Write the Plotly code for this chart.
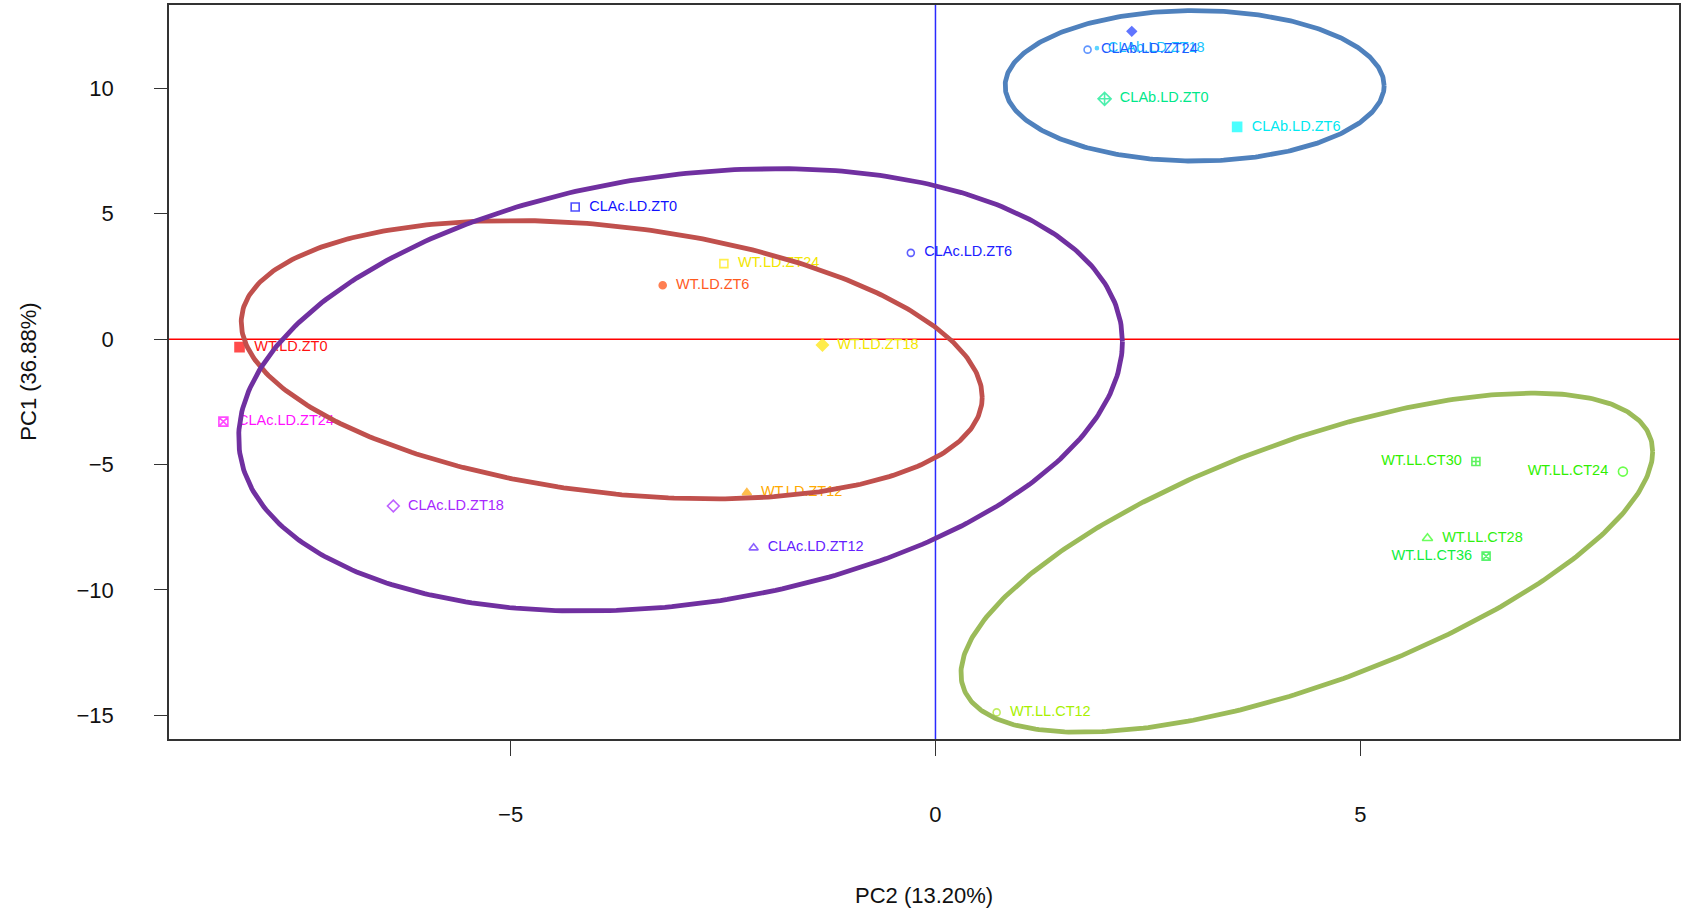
import numpy as np
import plotly.graph_objects as go

# ---------------- data ----------------
samples = [
    "WT.LD.ZT0", "WT.LD.ZT6", "WT.LD.ZT12", "WT.LD.ZT18", "WT.LD.ZT24",
    "CLAc.LD.ZT0", "CLAc.LD.ZT6", "CLAc.LD.ZT12", "CLAc.LD.ZT18", "CLAc.LD.ZT24",
    "CLAb.LD.ZT0", "CLAb.LD.ZT6", "CLAb.LD.ZT12", "CLAb.LD.ZT18", "CLAb.LD.ZT24",
    "WT.LL.CT12", "WT.LL.CT24", "WT.LL.CT28", "WT.LL.CT30", "WT.LL.CT36",
]
# labels shown next to points ("" = label not visible in the figure)
labels = [
    "WT.LD.ZT0", "WT.LD.ZT6", "WT.LD.ZT12", "WT.LD.ZT18", "WT.LD.ZT24",
    "CLAc.LD.ZT0", "CLAc.LD.ZT6", "CLAc.LD.ZT12", "CLAc.LD.ZT18", "CLAc.LD.ZT24",
    "CLAb.LD.ZT0", "CLAb.LD.ZT6", "", "CLAb.LD.ZT18", "CLAb.LD.ZT24",
    "WT.LL.CT12", "WT.LL.CT24", "WT.LL.CT28", "WT.LL.CT30", "WT.LL.CT36",
]
pc2 = [-8.19, -3.21, -2.22, -1.33, -2.49,
       -4.24, -0.29, -2.14, -6.38, -8.38,
       1.99, 3.55, 2.31, 1.90, 1.79,
       0.72, 8.09, 5.79, 6.36, 6.48]
pc1 = [-0.32, 2.15, -6.12, -0.23, 3.01,
       5.27, 3.44, -8.32, -6.65, -3.29,
       9.58, 8.46, 12.27, 11.60, 11.54,
       -14.88, -5.28, -7.94, -4.88, -8.65]

# confidence ellipses (data units): center, half-widths, correlation
ell_groups = ["WT.LD", "CLAc.LD", "WT.LL", "CLAb.LD"]
ell_cx = [-3.81, -3.00, 4.37, 3.05]
ell_cy = [-0.82, -2.02, -8.91, 10.10]
ell_sx = [4.36, 5.20, 4.07, 2.23]
ell_sy = [5.55, 8.82, 6.76, 3.00]
ell_rho = [-0.269, 0.217, 0.654, 0.0]

x_ticks = [-5, 0, 5]
y_ticks = [-15, -10, -5, 0, 5, 10]

# ---------------- styles ----------------
marker_colors = [
    "#FF0000", "#FF4A0A", "#FFA200", "#FFE400", "#FFE800",
    "#0000FF", "#1A1AFF", "#5A1EFF", "#A21EFF", "#FF00FF",
    "#00E88A", "#00FFFF", "#1E3CFF", "#18C4FF", "#1E6AFF",
    "#A6E61E", "#2EFF00", "#2EFF1A", "#1AEE1A", "#12EE30",
]
text_colors = [
    "#FF1010", "#FF5A1E", "#FFAA00", "#F2E600", "#F2E600",
    "#1010FF", "#2020FF", "#6420FF", "#A828FF", "#FF10FF",
    "#00E88A", "#00E8F0", "#1E50FF", "#18C4FF", "#1E5CFF",
    "#A8F000", "#30F000", "#30F010", "#30F000", "#10EE40",
]
symbols = [
    "square", "circle", "triangle-up", "diamond", "square-open",
    "square-open", "circle-open", "triangle-up-open", "diamond-open", "square-x-open",
    "diamond-cross-open", "square", "diamond", "circle", "circle-open",
    "circle-open", "circle-open", "triangle-up-open", "square-cross-open", "square-x-open",
]
sizes = [9, 7, 8, 9, 8,
         8, 7, 8, 9, 9,
         10, 9, 7, 3, 7,
         7, 9, 9, 8, 8]
text_pos = ["middle right"] * 16 + ["middle left", "middle right", "middle left", "middle left"]
ell_colors = ["#C0504D", "#7030A0", "#9BBB59", "#4F81BD"]

shown = [("  " + s if p.endswith("right") else s + "  ") if s else s
         for s, p in zip(labels, text_pos)]

fig = go.Figure()

# reference lines
fig.add_hline(y=0, line=dict(color="#FF0000", width=1.5), layer="below")
fig.add_vline(x=0, line=dict(color="#2A2AFF", width=1.5), layer="below")

fig.add_trace(go.Scatter(
    x=pc2, y=pc1, mode="markers+text",
    text=shown, hovertext=samples, textposition=text_pos,
    textfont=dict(family="Liberation Sans, Arial, sans-serif", size=14.5, color=text_colors),
    marker=dict(symbol=symbols, size=sizes, color=marker_colors,
                line=dict(width=1.6, color=marker_colors)),
    showlegend=False,
))

t = np.linspace(0, 2 * np.pi, 400)
for g, cx, cy, sx, sy, r, c in zip(ell_groups, ell_cx, ell_cy, ell_sx, ell_sy, ell_rho, ell_colors):
    ex = cx + sx * np.cos(t)
    ey = cy + sy * (r * np.cos(t) + np.sqrt(1 - r * r) * np.sin(t))
    fig.add_trace(go.Scatter(x=ex, y=ey, mode="lines", name=g,
                             line=dict(color=c, width=4.8), showlegend=False,
                             hoverinfo="skip"))

axis_font = dict(family="Liberation Sans, Arial, sans-serif", size=22, color="#111111")
fig.update_xaxes(range=[-9.02, 8.75], tickvals=x_ticks, ticktext=[("−" if v < 0 else "") + str(abs(v)) for v in x_ticks],
                 showgrid=False, zeroline=False, showline=True, mirror=True,
                 linecolor="#333333", linewidth=1.5, ticks="outside", ticklen=15,
                 tickwidth=1.2, tickcolor="#333333", tickfont=axis_font,
                 ticklabelstandoff=40)
fig.update_yaxes(range=[-15.94, 13.32], tickvals=y_ticks, ticktext=[("−" if v < 0 else "") + str(abs(v)) for v in y_ticks],
                 showgrid=False, zeroline=False, showline=True, mirror=True,
                 linecolor="#333333", linewidth=1.5, ticks="outside", ticklen=13,
                 tickwidth=1.2, tickcolor="#333333", tickfont=axis_font,
                 ticklabelstandoff=36)

fig.add_annotation(text="PC2 (13.20%)", xref="paper", yref="paper", x=0.5, y=-0.213,
                   xanchor="center", yanchor="middle", showarrow=False, font=axis_font)
fig.add_annotation(text="PC1 (36.88%)", xref="paper", yref="paper", x=-0.0936, y=0.5,
                   xanchor="center", yanchor="middle", showarrow=False, textangle=-90,
                   font=axis_font)

fig.update_layout(width=1691, height=924, plot_bgcolor="white", paper_bgcolor="white",
                  margin=dict(l=169, r=12, t=5, b=185, autoexpand=False))

fig.write_html("out.html", config={"displayModeBar": False},
               post_script="document.body.style.margin='0';document.body.style.overflow='hidden';")
